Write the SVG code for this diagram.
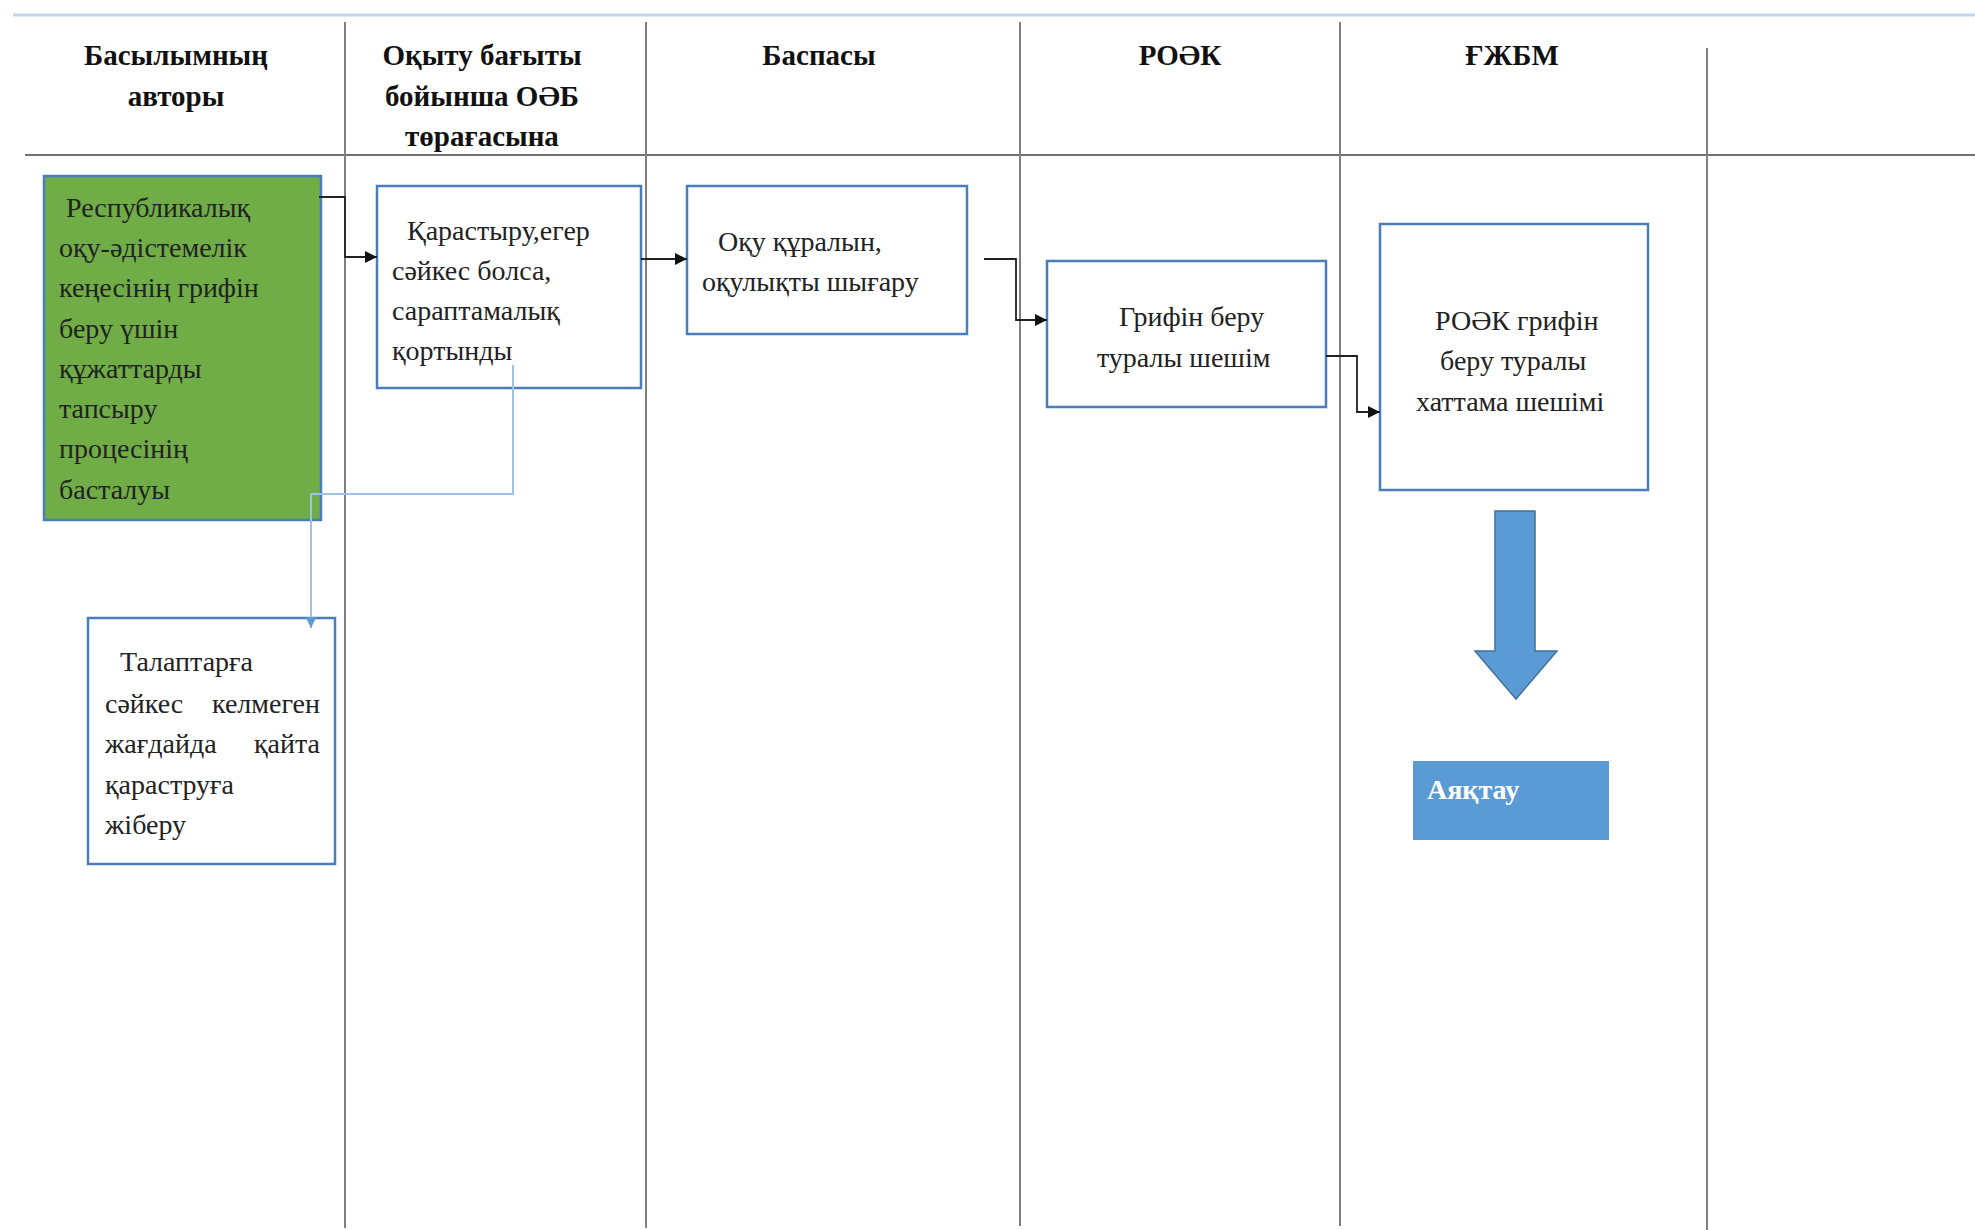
<svg xmlns="http://www.w3.org/2000/svg" width="1975" height="1230" viewBox="0 0 1975 1230">
<defs>
<style>
.lane{stroke:#808080;stroke-width:2;fill:none}
.hd{font-family:"Liberation Serif",serif;font-weight:bold;font-size:29px;fill:#111;text-anchor:middle}
.t{font-family:"Liberation Serif",serif;font-size:28px;fill:#222}
.box{fill:#fff;stroke:#4a7ebb;stroke-width:2.5}
.con{stroke:#222;stroke-width:1.8;fill:none}
.blue{stroke:#9dc3e6;stroke-width:2;fill:none}
</style>
<marker id="ah" viewBox="0 0 10 10" refX="10" refY="5" markerWidth="12" markerHeight="12" orient="auto" markerUnits="userSpaceOnUse"><path d="M0,0 L10,5 L0,10 z" fill="#111"/></marker>
<marker id="ahb" viewBox="0 0 10 10" refX="10" refY="5" markerWidth="11" markerHeight="11" orient="auto" markerUnits="userSpaceOnUse"><path d="M0,0 L10,5 L0,10 z" fill="#5b9bd5"/></marker>
</defs>
<rect width="1975" height="1230" fill="#fff"/>
<g id="lanes">
<line x1="13" y1="15" x2="1975" y2="15" stroke="#bdd7ee" stroke-width="3"/>
<line x1="25" y1="155" x2="1975" y2="155" stroke="#707070" stroke-width="2"/>
<line class="lane" x1="345" y1="22" x2="345" y2="1228"/>
<line class="lane" x1="646" y1="22" x2="646" y2="1228"/>
<line class="lane" x1="1020" y1="22" x2="1020" y2="1226"/>
<line class="lane" x1="1340" y1="22" x2="1340" y2="1226"/>
<line class="lane" x1="1707" y1="48" x2="1707" y2="1230"/>
</g>
<g id="headers">
<text class="hd" x="176" y="65">Басылымның</text>
<text class="hd" x="176" y="106">авторы</text>
<text class="hd" x="482" y="65">Оқыту бағыты</text>
<text class="hd" x="482" y="106">бойынша ОӘБ</text>
<text class="hd" x="482" y="146">төрағасына</text>
<text class="hd" x="819" y="65">Баспасы</text>
<text class="hd" x="1180" y="65">РОӘК</text>
<text class="hd" x="1512" y="65">ҒЖБМ</text>
</g>
<g id="n1">
<rect x="44" y="176" width="277" height="344" fill="#70ad47" stroke="#4a7ebb" stroke-width="2.5"/>
<text class="t" fill="#111"><tspan x="66" y="217">Республикалық</tspan><tspan x="59" y="257">оқу-әдістемелік</tspan><tspan x="59" y="297">кеңесінің  грифін</tspan><tspan x="59" y="338">беру үшін</tspan><tspan x="59" y="378">құжаттарды</tspan><tspan x="59" y="418">тапсыру</tspan><tspan x="59" y="458">процесінің</tspan><tspan x="59" y="499">басталуы</tspan></text>
</g>
<g id="n2">
<rect class="box" x="377" y="186" width="264" height="202"/>
<text class="t"><tspan x="407" y="240">Қарастыру,егер</tspan><tspan x="392" y="280">сәйкес болса,</tspan><tspan x="392" y="320">сараптамалық</tspan><tspan x="392" y="360">қортынды</tspan></text>
</g>
<g id="n3">
<rect class="box" x="687" y="186" width="280" height="148"/>
<text class="t"><tspan x="718" y="251">Оқу құралын,</tspan><tspan x="702" y="291">оқулықты шығару</tspan></text>
</g>
<g id="n4">
<rect class="box" x="1047" y="261" width="279" height="146"/>
<text class="t"><tspan x="1119" y="326">Грифін беру</tspan><tspan x="1097" y="367">туралы шешім</tspan></text>
</g>
<g id="n5">
<rect class="box" x="1380" y="224" width="268" height="266"/>
<text class="t"><tspan x="1435" y="330">РОӘК грифін</tspan><tspan x="1440" y="370">беру туралы</tspan><tspan x="1416" y="411">хаттама шешімі</tspan></text>
</g>
<g id="n6">
<rect class="box" x="88" y="618" width="247" height="246"/>
<text class="t"><tspan x="120" y="671">Талаптарға</tspan><tspan x="105" y="713">сәйкес</tspan><tspan x="320" y="713" text-anchor="end">келмеген</tspan><tspan x="105" y="753">жағдайда</tspan><tspan x="320" y="753" text-anchor="end">қайта</tspan><tspan x="105" y="794">қараструға</tspan><tspan x="105" y="834">жіберу</tspan></text>
</g>
<g id="arrow">
<path d="M1495,511 H1535 V651 H1557 L1516,699 L1475,651 H1495 Z" fill="#5b9bd5" stroke="#41719c" stroke-width="1.5"/>
</g>
<g id="end">
<rect x="1413" y="761" width="196" height="79" fill="#5b9bd5"/>
<text x="1427" y="799" font-family="Liberation Serif,serif" font-weight="bold" font-size="28" fill="#fff">Аяқтау</text>
</g>
<g id="connectors">
<path class="con" d="M319,197 H345 V257 H377" marker-end="url(#ah)"/>
<path class="con" d="M641,259 H687" marker-end="url(#ah)"/>
<path class="con" d="M984,259 H1016 V320 H1047" marker-end="url(#ah)"/>
<path class="con" d="M1326,356 H1357 V412 H1380" marker-end="url(#ah)"/>
<path class="blue" d="M513,365 V494 H311 V628" marker-end="url(#ahb)"/>
</g>
</svg>
